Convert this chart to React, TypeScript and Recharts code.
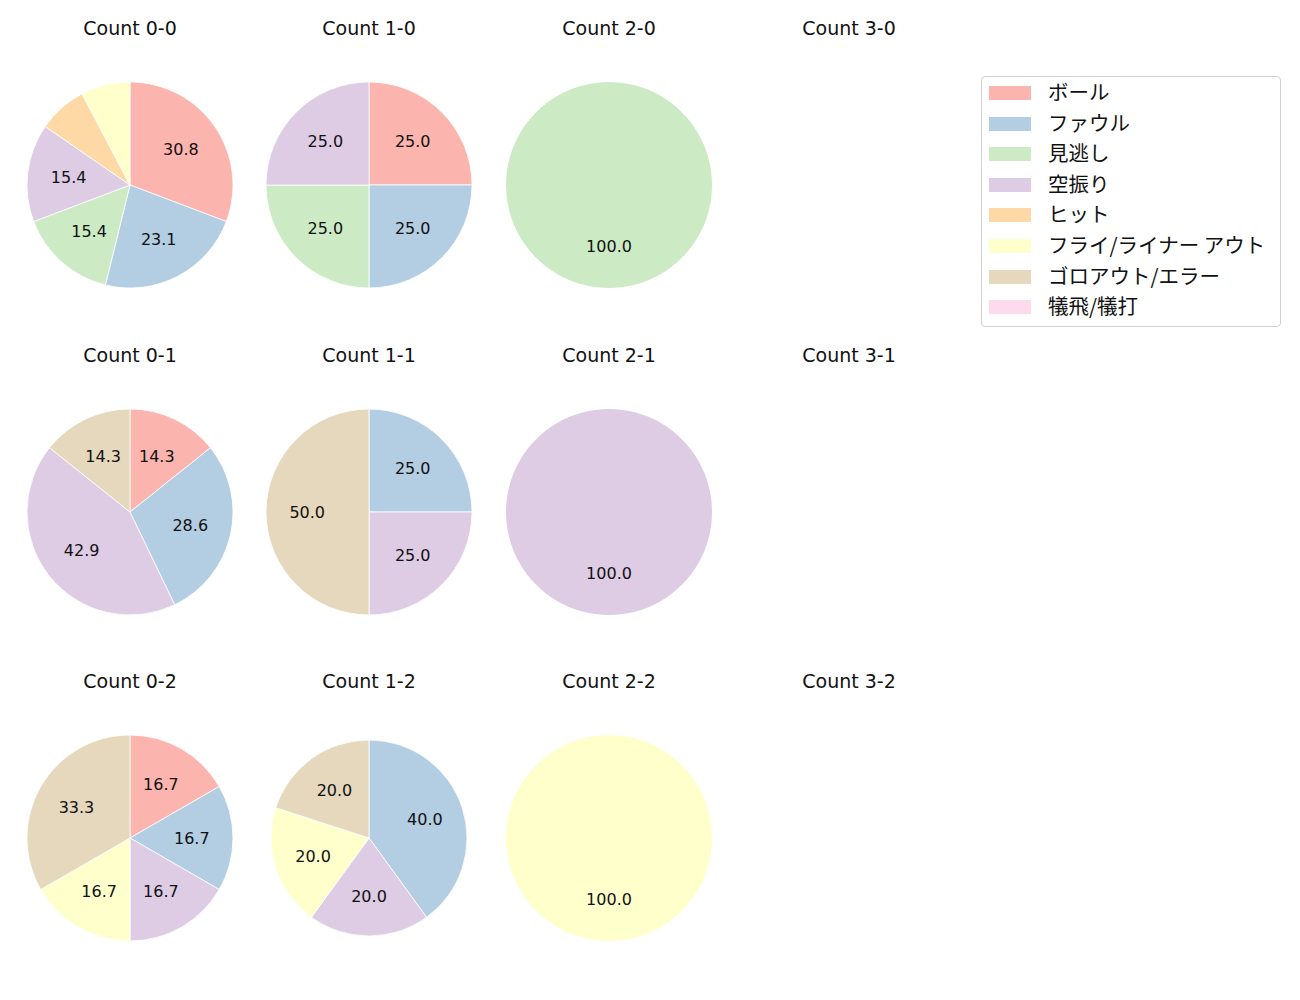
import React from "react";
import { Pie, PieChart, Cell } from "recharts";

const categories = [
  "ボール",
  "ファウル",
  "見逃し",
  "空振り",
  "ヒット",
  "フライ/ライナー アウト",
  "ゴロアウト/エラー",
  "犠飛/犠打",
];

const colors = [
  "#fbb4ae",
  "#b3cde3",
  "#ccebc5",
  "#decbe4",
  "#fed9a6",
  "#ffffcc",
  "#e5d8bd",
  "#fddaec",
];

// pitch counts per category, in the order of `categories`
const count00 = [4, 3, 2, 2, 1, 1, 0, 0];
const count10 = [1, 1, 1, 1, 0, 0, 0, 0];
const count20 = [0, 0, 1, 0, 0, 0, 0, 0];
const count01 = [1, 2, 0, 3, 0, 0, 1, 0];
const count11 = [0, 1, 0, 1, 0, 0, 2, 0];
const count21 = [0, 0, 0, 1, 0, 0, 0, 0];
const count02 = [1, 1, 0, 1, 0, 1, 2, 0];
const count12 = [0, 2, 0, 1, 0, 1, 1, 0];
const count22 = [0, 0, 0, 0, 0, 1, 0, 0];

const panels = [
  { title: "Count 0-0", values: count00, col: 0, row: 0 },
  { title: "Count 1-0", values: count10, col: 1, row: 0 },
  { title: "Count 2-0", values: count20, col: 2, row: 0 },
  { title: "Count 3-0", values: null, col: 3, row: 0 },
  { title: "Count 0-1", values: count01, col: 0, row: 1 },
  { title: "Count 1-1", values: count11, col: 1, row: 1 },
  { title: "Count 2-1", values: count21, col: 2, row: 1 },
  { title: "Count 3-1", values: null, col: 3, row: 1 },
  { title: "Count 0-2", values: count02, col: 0, row: 2 },
  { title: "Count 1-2", values: count12, col: 1, row: 2, small: true },
  { title: "Count 2-2", values: count22, col: 2, row: 2 },
  { title: "Count 3-2", values: null, col: 3, row: 2 },
];

const LATIN = '"DejaVu Sans", "Noto Sans CJK JP", sans-serif';
const CJK = '"Noto Sans CJK JP", "DejaVu Sans", sans-serif';
const colX = [130, 369, 609, 849];
const rowY = [185, 512, 838];
const titleY = [28, 355, 681];
const R = 103;

const RADIAN = Math.PI / 180;

function renderLabel(props: any) {
  const { cx, cy, midAngle, outerRadius, percent } = props;
  if (percent < 0.1) return null;
  const r = outerRadius * 0.6;
  const x = cx + r * Math.cos(-midAngle * RADIAN);
  const y = cy + r * Math.sin(-midAngle * RADIAN);
  return (
    <text
      x={x}
      y={y}
      fill="#111"
      fontSize={16}
      fontFamily={LATIN}
      textAnchor="middle"
      dominantBaseline="central"
    >
      {(percent * 100).toFixed(1)}
    </text>
  );
}

export default function App() {
  return (
    <div
      style={{
        position: "absolute",
        left: 0,
        top: 0,
        width: 1300,
        height: 1000,
        background: "#fff",
        fontFamily: LATIN,
      }}
    >
      <PieChart width={1300} height={1000} margin={{ top: 0, right: 0, bottom: 0, left: 0 }}>
        {panels
          .filter((p) => p.values)
          .map((p) => {
            const data = categories
              .map((name, i) => ({ name, value: p.values![i], color: colors[i] }))
              .filter((d) => d.value > 0);
            const single = data.length === 1;
            return (
              <Pie
                key={p.title}
                data={data}
                dataKey="value"
                nameKey="name"
                cx={colX[p.col]}
                cy={rowY[p.row]}
                outerRadius={p.small ? 98 : R}
                startAngle={90}
                endAngle={-270}
                stroke={single ? "none" : "#fff"}
                strokeWidth={0.8}
                labelLine={false}
                label={renderLabel}
                isAnimationActive={false}
              >
                {data.map((d) => (
                  <Cell key={d.name} fill={d.color} />
                ))}
              </Pie>
            );
          })}
      </PieChart>
      {panels.map((p) => (
        <div
          key={p.title}
          style={{
            position: "absolute",
            left: colX[p.col] - 100,
            width: 200,
            top: titleY[p.row] - 13,
            textAlign: "center",
            fontSize: 19,
            lineHeight: "26px",
            color: "#111",
          }}
        >
          {p.title}
        </div>
      ))}
      <div
        style={{
          position: "absolute",
          left: 981,
          top: 76,
          width: 298,
          height: 249,
          border: "1px solid #d0d0d0",
          borderRadius: 4,
          boxSizing: "content-box",
        }}
      >
        {categories.map((c, i) => (
          <div
            key={c}
            style={{
              position: "absolute",
              left: 7,
              top: 8 + i * 30.6,
              height: 16,
              display: "flex",
              alignItems: "center",
              whiteSpace: "nowrap",
            }}
          >
            <div style={{ width: 42, height: 14, background: colors[i] }} />
            <span
              style={{
                marginLeft: 17,
                fontSize: 20.5,
                fontFamily: CJK,
                color: "#111",
                position: "relative",
                top: -2,
              }}
            >
              {c}
            </span>
          </div>
        ))}
      </div>
    </div>
  );
}
